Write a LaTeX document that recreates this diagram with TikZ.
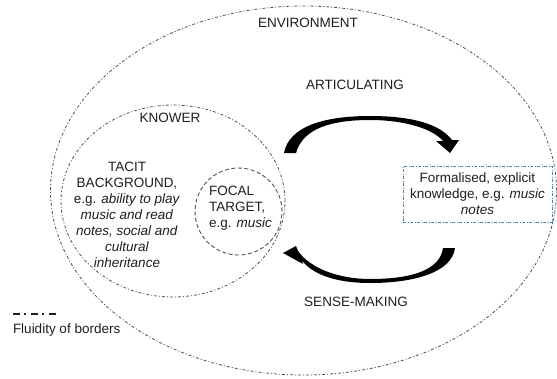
\documentclass[tikz,border=0pt]{standalone}
\usepackage{fontspec}
\setmainfont{Liberation Sans}
\usetikzlibrary{shapes.geometric}
\definecolor{txt}{HTML}{1E1E1E}
\definecolor{brd}{HTML}{505050}
\definecolor{boxblue}{HTML}{5080B0}
\begin{document}
\begin{tikzpicture}[x=1pt,y=-1pt,
  every node/.style={font=\fontsize{13.5}{16}\selectfont, text=txt, inner sep=0pt, outer sep=0pt},
  fluid/.style={draw=brd, line width=0.8pt, dash pattern=on 3pt off 2pt on 1pt off 2pt},
  focalline/.style={draw=brd, line width=0.9pt, dash pattern=on 4pt off 2.5pt},
  ring/.style={ellipse, fill=none},
  explicitbox/.style={draw=boxblue, line width=0.8pt, dash pattern=on 3pt off 1.5pt on 1pt off 1.5pt},
  legendline/.style={draw=txt, line width=1.8pt, dash pattern=on 7pt off 4pt on 2pt off 5pt},
  brush/.style={fill=black}
]
\useasboundingbox (0,0) rectangle (557,378);

% regions
\node[ring, fluid, minimum width=506pt, minimum height=369pt] (env) at (303.5,190.5) {};
\node[ring, fluid, minimum width=224pt, minimum height=192pt] (knower) at (173,201) {};
\node[ring, focalline, minimum width=87pt, minimum height=87pt] (focal) at (238.5,211.5) {};
\node[explicitbox, minimum width=149pt, minimum height=56pt] (box) at (477.5,194) {};

% labels
\node (envlbl) at (308,23) {ENVIRONMENT};
\node (artlbl) at (355,85) {ARTICULATING};
\node (knowlbl) at (170,118) {KNOWER};
\node[align=center] (tacit) at (127,215) {TACIT\\BACKGROUND,\\e.g. \textit{ability to play}\\\textit{music and read}\\\textit{notes, social and}\\\textit{cultural}\\\textit{inheritance}};
\node[align=left, anchor=west] (focallbl) at (209,208) {FOCAL\\TARGET,\\e.g. \textit{music}};
\node[align=center] (boxtxt) at (box.center) {Formalised, explicit\\knowledge, e.g. \textit{music}\\\textit{notes}};
\node (senselbl) at (356,302) {SENSE-MAKING};

% articulating arrow (top)
\fill[brush] (284,153) .. controls (289,126) and (325,116) .. (370,116)
  .. controls (412,116) and (440,124) .. (452,140) -- (459,140) -- (450,153) -- (436,141) -- (443,141)
  .. controls (433,129) and (405,120) .. (370,120)
  .. controls (332,120) and (303,128) .. (296,153) -- cycle;

% sense-making arrow (bottom)
\fill[brush] (455,248) .. controls (452,272) and (415,283) .. (370,283)
  .. controls (335,283) and (312,274) .. (301.5,260) -- (303,264) -- (283,253) -- (296,246) -- (298,251)
  .. controls (310,268) and (338,279) .. (370,279)
  .. controls (412,279) and (440,270) .. (443,248) -- cycle;

% legend
\coordinate (lgA) at (13,314);
\coordinate (lgB) at (57,314);
\draw[legendline] (lgA) -- (lgB);
\node[anchor=west] (lgtxt) at (13,330) {Fluidity of borders};
\end{tikzpicture}
\end{document}
